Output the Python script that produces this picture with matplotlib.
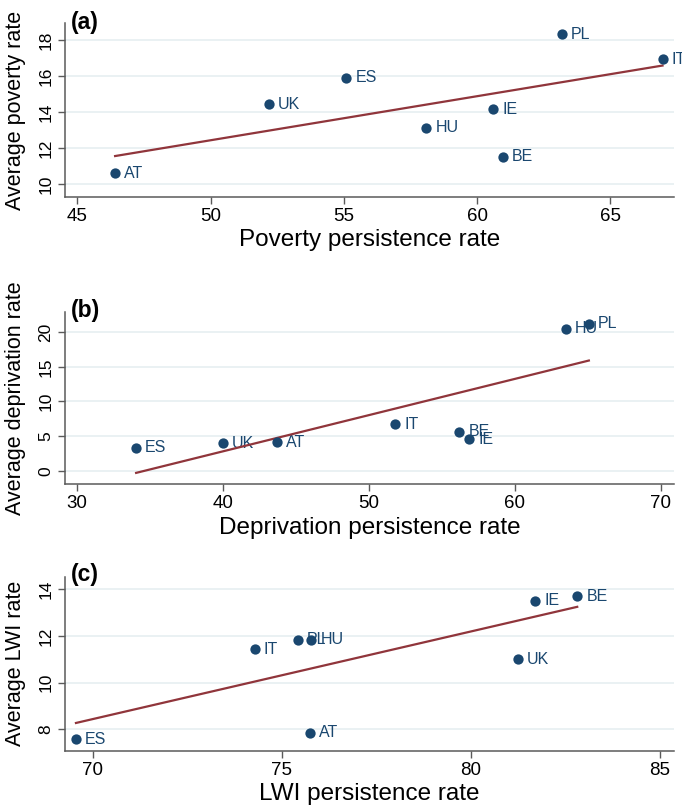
import numpy as np
import matplotlib.pyplot as plt

plt.rcParams['font.family'] = ['Liberation Sans', 'DejaVu Sans']

# (a) poverty
ctry_a = ["AT", "UK", "ES", "HU", "IE", "BE", "PL", "IT"]
pers_a = [46.42, 52.19, 55.10, 58.10, 60.60, 60.96, 63.19, 66.96]
rate_a = [10.61, 14.44, 15.90, 13.13, 14.16, 11.53, 18.31, 16.93]

# (b) deprivation
ctry_b = ["ES", "UK", "AT", "IT", "BE", "IE", "HU", "PL"]
pers_b = [34.07, 40.01, 43.73, 51.81, 56.21, 56.87, 63.52, 65.07]
rate_b = [3.35, 4.02, 4.11, 6.75, 5.65, 4.60, 20.48, 21.20]

# (c) low work intensity
ctry_c = ["ES", "AT", "IT", "PL", "HU", "UK", "IE", "BE"]
pers_c = [69.56, 75.76, 74.29, 75.43, 75.79, 81.25, 81.71, 82.82]
rate_c = [7.57, 7.86, 11.43, 11.83, 11.83, 11.01, 13.50, 13.70]

navy = "#1a476f"
maroon = "#90353b"
grid = "#e6eff1"
axcol = "#5a5a5a"

panels = [
    dict(tag="(a)", x=pers_a, y=rate_a, lab=ctry_a,
         xlabel="Poverty persistence rate", ylabel="Average poverty rate",
         xlim=(44.54, 67.39), ylim=(9.31, 18.92),
         xticks=[45, 50, 55, 60, 65], yticks=[10, 12, 14, 16, 18],
         top=23.3, bottom=196.7, tagy=22),
    dict(tag="(b)", x=pers_b, y=rate_b, lab=ctry_b,
         xlabel="Deprivation persistence rate", ylabel="Average deprivation rate",
         xlim=(29.2, 70.9), ylim=(-1.92, 22.84),
         xticks=[30, 40, 50, 60, 70], yticks=[0, 5, 10, 15, 20],
         top=312.3, bottom=484.3, tagy=310),
    dict(tag="(c)", x=pers_c, y=rate_c, lab=ctry_c,
         xlabel="LWI persistence rate", ylabel="Average LWI rate",
         xlim=(69.27, 85.38), ylim=(7.08, 14.54),
         xticks=[70, 75, 80, 85], yticks=[8, 10, 12, 14],
         top=576.7, bottom=750.7, tagy=575),
]

W, H = 682, 806
fig = plt.figure(figsize=(W / 100, H / 100), dpi=100)

for p in panels:
    hpx = p["bottom"] - p["top"]
    ax = fig.add_axes([65 / W, 1 - p["bottom"] / H, (674 - 65) / W, hpx / H])
    x = np.array(p["x"])
    y = np.array(p["y"])

    ax.scatter(x, y, s=55, color=navy, zorder=4, linewidths=0)
    for xi, yi, t in zip(x, y, p["lab"]):
        ax.annotate(t, (xi, yi), xytext=(6.5, 0), textcoords="offset points",
                    ha="left", va="center", fontsize=11.5, color=navy,
                    zorder=2, annotation_clip=False)

    b, a = np.polyfit(x, y, 1)
    xs = np.array([x.min(), x.max()])
    ax.plot(xs, a + b * xs, color=maroon, lw=1.6, zorder=3)

    ax.set_xlim(*p["xlim"])
    ax.set_ylim(*p["ylim"])
    ax.set_xticks(p["xticks"])
    ax.set_yticks(p["yticks"])
    ax.yaxis.grid(True, color=grid, lw=1.2, zorder=0)
    ax.set_axisbelow(True)

    for s in ["top", "right"]:
        ax.spines[s].set_visible(False)
    for s in ["left", "bottom"]:
        ax.spines[s].set_color(axcol)
        ax.spines[s].set_linewidth(1.1)

    ax.tick_params(axis="both", direction="out", length=5, width=1.0, color=axcol)
    ax.tick_params(axis="x", labelsize=13.5, pad=3)
    ax.tick_params(axis="y", labelsize=12.5, pad=3.5, labelrotation=90)
    for lb in ax.get_yticklabels():
        lb.set_va("center")

    ax.set_xlabel(p["xlabel"], fontsize=17.5)
    ax.set_ylabel(p["ylabel"], fontsize=15.5)
    ax.xaxis.set_label_coords(0.5, -32.5 / hpx)
    ax.yaxis.set_label_coords(-(65 - 26) / 609, 0.5)

    fig.text(71 / W, 1 - p["tagy"] / H, p["tag"], fontsize=16.5, fontweight="bold",
             ha="left", va="center")

fig.savefig("out.png", dpi=100)
